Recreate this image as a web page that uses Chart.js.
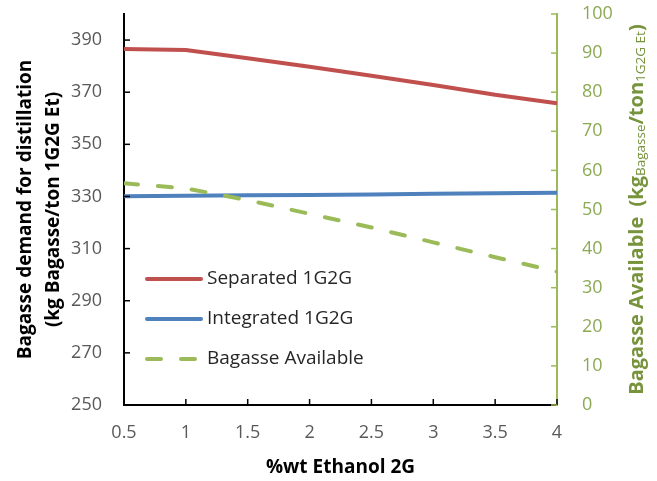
<!DOCTYPE html>
<html>
<head>
<meta charset="utf-8">
<script src="https://cdn.jsdelivr.net/npm/chart.js@4/dist/chart.umd.min.js"></script>
<style>
  html, body { margin: 0; padding: 0; background: #fff; }
  #wrap { width: 657px; height: 481px; }
</style>
</head>
<body>
<div id="wrap"><canvas id="chart" width="657" height="481"></canvas></div>
<script>
// values
var ethanol2G = [0.5, 1, 1.5, 2, 2.5, 3, 3.5, 4];
var separated = [386.6, 386.2, 383.0, 379.8, 376.3, 372.8, 369.0, 365.8];
var integrated = [330.1, 330.3, 330.5, 330.6, 330.8, 331.0, 331.2, 331.4];
var bagasseAvailable = [56.7, 55.4, 52.4, 48.9, 45.4, 41.6, 37.8, 34.1];

var leftTicks = [250, 270, 290, 310, 330, 350, 370, 390];
var rightTicks = [0, 10, 20, 30, 40, 50, 60, 70, 80, 90, 100];
var xTicks = [0.5, 1, 1.5, 2, 2.5, 3, 3.5, 4];

var RED = '#C0504D', BLUE = '#4F81BD', GREEN = '#9BBB59';
var FONT = "'Open Sans', 'Noto Sans', sans-serif";

Chart.defaults.font.family = FONT;

function pairs(xs, ys) {
  return xs.map(function(x, i) { return { x: x, y: ys[i] }; });
}

function fixTicks(list) {
  return function(scale) {
    scale.ticks = list.map(function(v) { return { value: v }; });
  };
}

// fixed box size so the plot frame lands where the original has it
function boxWidth(w) {
  return function(s) { s.width = w; s.paddingTop = 0; s.paddingBottom = 0; };
}

function plain(v) { return String(v); }

// small tick marks drawn on the inside of the plot frame
var innerTicks = {
  id: 'innerTicks',
  afterDatasetsDraw: function(chart) {
    var ctx = chart.ctx, a = chart.chartArea;
    ctx.save();
    ctx.lineWidth = 1.5;
    ctx.strokeStyle = '#000';
    chart.scales.y.ticks.forEach(function(t) {
      var p = chart.scales.y.getPixelForValue(t.value);
      ctx.beginPath(); ctx.moveTo(a.left, p); ctx.lineTo(a.left + 6, p); ctx.stroke();
    });
    chart.scales.x.ticks.forEach(function(t) {
      var p = chart.scales.x.getPixelForValue(t.value);
      ctx.beginPath(); ctx.moveTo(p, a.bottom); ctx.lineTo(p, a.bottom - 6); ctx.stroke();
    });
    ctx.strokeStyle = GREEN;
    chart.scales.y2.ticks.forEach(function(t) {
      var p = chart.scales.y2.getPixelForValue(t.value);
      ctx.beginPath(); ctx.moveTo(a.right, p); ctx.lineTo(a.right - 6, p); ctx.stroke();
    });
    ctx.restore();
  }
};

// legend inside the plot, lower left
var insideLegend = {
  id: 'insideLegend',
  afterDatasetsDraw: function(chart) {
    var ctx = chart.ctx, a = chart.chartArea;
    ctx.save();
    chart.data.datasets.forEach(function(ds, i) {
      var y = 279 + i * 40;
      var x0 = a.left + 23;
      ctx.beginPath();
      ctx.lineWidth = 4;
      ctx.lineCap = 'round';
      ctx.strokeStyle = ds.borderColor;
      ctx.setLineDash(ds.borderDash || []);
      ctx.moveTo(x0, y);
      ctx.lineTo(x0 + 54, y);
      ctx.stroke();
      ctx.setLineDash([]);
      ctx.fillStyle = '#262626';
      ctx.font = '19px ' + FONT;
      ctx.textBaseline = 'middle';
      ctx.textAlign = 'left';
      ctx.fillText(ds.label, x0 + 60, y);
    });
    ctx.restore();
  }
};

// right axis title with subscripts
var rightTitle = {
  id: 'rightTitle',
  afterDraw: function(chart) {
    var ctx = chart.ctx;
    var parts = [
      { t: 'Bagasse Available  (kg', f: 'bold 20px ' + FONT, dy: 0 },
      { t: 'Bagasse', f: '13.5px ' + FONT, dy: 4 },
      { t: '/ton', f: 'bold 20px ' + FONT, dy: 0 },
      { t: '1G2G Et', f: '13.5px ' + FONT, dy: 4 },
      { t: ')', f: 'bold 20px ' + FONT, dy: 0 }
    ];
    ctx.save();
    var total = 0;
    parts.forEach(function(p) { ctx.font = p.f; p.w = ctx.measureText(p.t).width; total += p.w; });
    ctx.translate(637, (chart.chartArea.top + chart.chartArea.bottom) / 2);
    ctx.rotate(-Math.PI / 2);
    ctx.fillStyle = '#77933C';
    ctx.textBaseline = 'middle';
    ctx.textAlign = 'left';
    var x = -total / 2;
    parts.forEach(function(p) {
      ctx.font = p.f;
      ctx.fillText(p.t, x, p.dy);
      x += p.w;
    });
    ctx.restore();
  }
};

var ctx = document.getElementById('chart').getContext('2d');
new Chart(ctx, {
  type: 'line',
  data: {
    datasets: [
      { label: 'Separated 1G2G', data: pairs(ethanol2G, separated), yAxisID: 'y',
        borderColor: RED, borderWidth: 4, pointRadius: 0, tension: 0 },
      { label: 'Integrated 1G2G', data: pairs(ethanol2G, integrated), yAxisID: 'y',
        borderColor: BLUE, borderWidth: 4, pointRadius: 0, tension: 0 },
      { label: 'Bagasse Available', data: pairs(ethanol2G, bagasseAvailable), yAxisID: 'y2',
        borderColor: GREEN, borderWidth: 4, borderDash: [14, 20], borderCapStyle: 'round',
        pointRadius: 0, tension: 0, order: -1 }
    ]
  },
  options: {
    responsive: false,
    animation: false,
    layout: { padding: { top: 14, left: 0, right: 0, bottom: 0 } },
    plugins: { legend: { display: false }, tooltip: { enabled: false } },
    scales: {
      x: {
        type: 'linear', min: 0.5, max: 4,
        afterBuildTicks: fixTicks(xTicks),
        afterFit: function(s) { s.height = 76; },
        grid: { display: false, drawTicks: false },
        border: { display: true, color: '#000', width: 2 },
        ticks: { color: '#595959', font: { size: 18 }, padding: 17, maxRotation: 0, callback: plain },
        title: { display: true, text: '%wt Ethanol 2G', color: '#000',
                 font: { size: 19, weight: 'bold' }, padding: { top: 0, bottom: 2 } }
      },
      y: {
        position: 'left', min: 250, max: 400,
        afterBuildTicks: fixTicks(leftTicks),
        afterFit: boxWidth(124),
        grid: { display: false, drawTicks: false },
        border: { display: true, color: '#000', width: 2 },
        ticks: { color: '#595959', font: { size: 18 }, padding: 22, callback: plain },
        title: { display: true, text: ['Bagasse demand for distillation', '(kg Bagasse/ton 1G2G Et)'],
                 color: '#000', font: { size: 19, weight: 'bold', lineHeight: 1.5 },
                 padding: { top: 11, bottom: 0 } }
      },
      y2: {
        position: 'right', min: 0, max: 100,
        afterBuildTicks: fixTicks(rightTicks),
        afterFit: boxWidth(100),
        grid: { display: false, drawTicks: false },
        border: { display: true, color: GREEN, width: 2 },
        ticks: { color: '#8CAA55', font: { size: 18 }, padding: 25, callback: plain }
      }
    }
  },
  plugins: [innerTicks, insideLegend, rightTitle]
});
</script>
</body>
</html>
